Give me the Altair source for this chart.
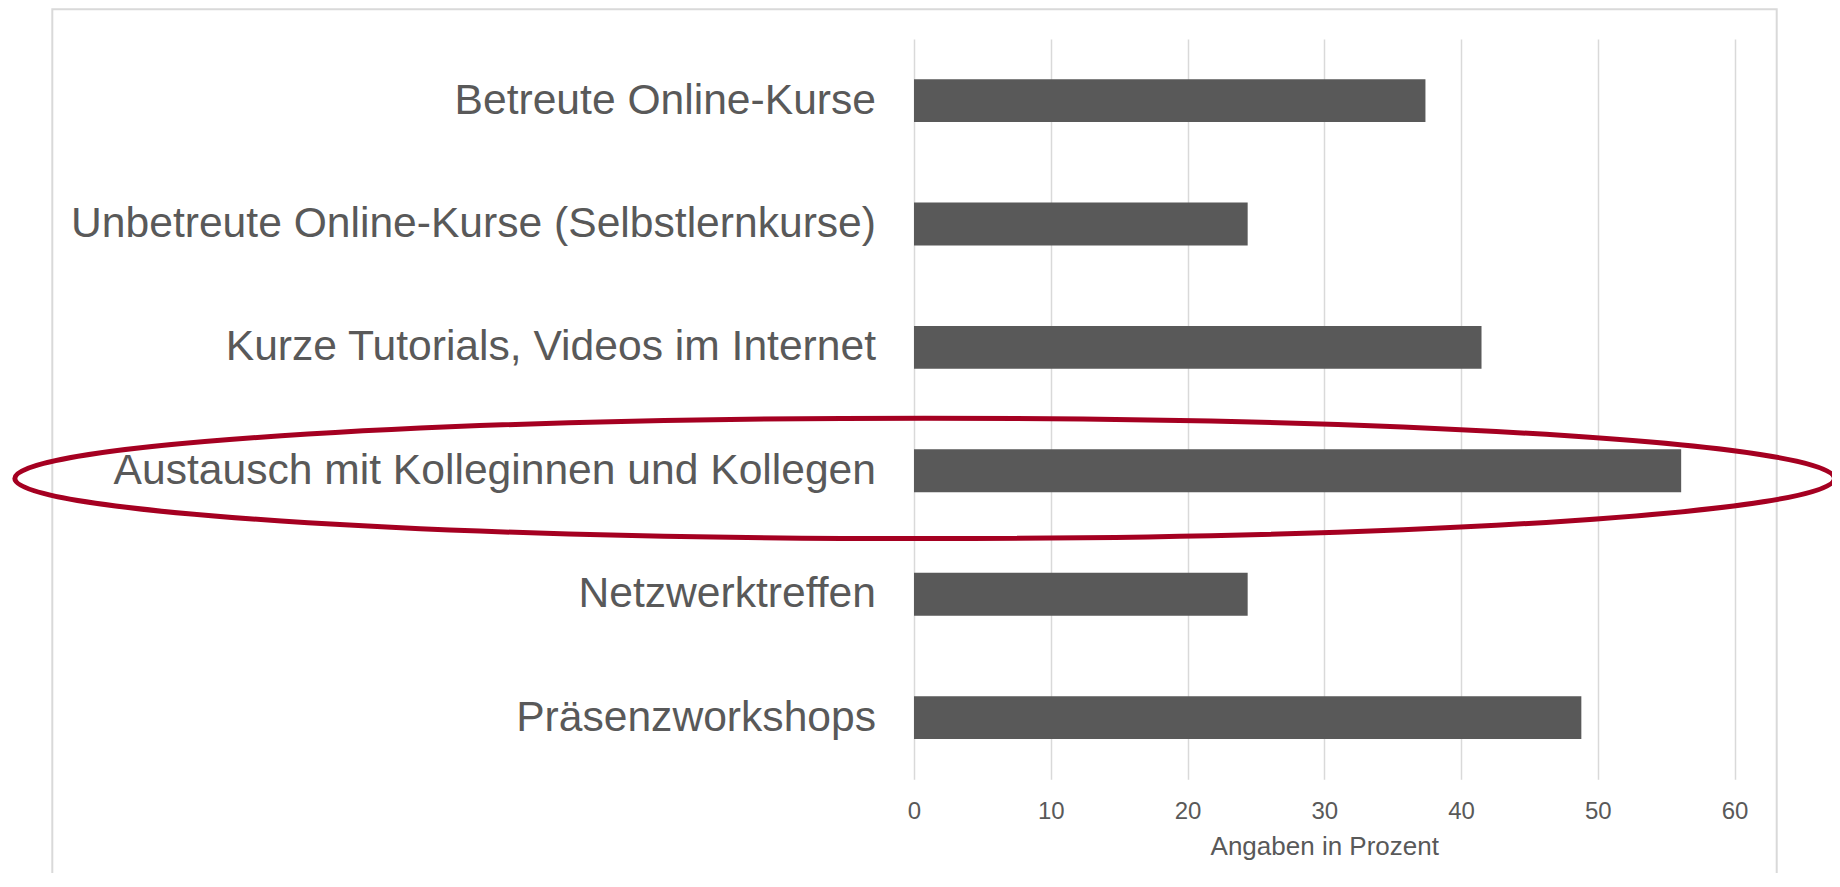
import altair as alt
import pandas as pd

# ---- data ----
categories = [
    "Betreute Online-Kurse",
    "Unbetreute Online-Kurse (Selbstlernkurse)",
    "Kurze Tutorials, Videos im Internet",
    "Austausch mit Kolleginnen und Kollegen",
    "Netzwerktreffen",
    "Präsenzworkshops",
]
values = [37.4, 24.4, 41.5, 56.1, 24.4, 48.8]
x_ticks = [0, 10, 20, 30, 40, 50, 60]
x_title = "Angaben in Prozent"
highlighted = "Austausch mit Kolleginnen und Kollegen"

df = pd.DataFrame({"Kategorie": categories, "Prozent": values})
hl = pd.DataFrame({"Kategorie": [highlighted], "pos": [0.78]})
frame_df = pd.DataFrame({"k": [0]})

FONT = "Liberation Sans"
TEXT = "#595959"
BAR = "#595959"
GRID = "#d9d9d9"
RED = "#A50021"

PAD_L, PAD_T = 906, 30.9
W, H = 820.5, 740.4
PAD_R = 1824 - PAD_L - W
PAD_B = 865 - PAD_T - H

x_scale = alt.Scale(domain=[0, 60], nice=False, zero=True)
y_scale = alt.Scale(domain=categories, paddingInner=0.652, paddingOuter=0.326)

x_axis = alt.Axis(
    values=x_ticks, title=x_title, grid=True, gridColor=GRID, gridWidth=1.5,
    domain=False, ticks=False, tickSize=0, labelFlush=False,
    labelFont=FONT, labelFontSize=24, labelColor=TEXT, labelPadding=20.6,
    titleFont=FONT, titleFontSize=26, titleFontWeight="normal", titleColor=TEXT,
    titlePadding=10,
)
y_axis = alt.Axis(
    title=None, domain=False, ticks=False, tickSize=0, grid=False,
    labelFont=FONT, labelFontSize=42.6, labelColor=TEXT, labelPadding=38.5,
    labelLimit=1000,
)

frame = alt.Chart(frame_df).mark_rect(
    fillOpacity=0, stroke=GRID, strokeWidth=2
).encode(
    x=alt.value(52.3 - 8 - PAD_L),
    x2=alt.value(1776.7 - 8 - PAD_L),
    y=alt.value(9.3 - 8 - PAD_T),
    y2=alt.value(900),
)

bars = alt.Chart(df).mark_bar(color=BAR).encode(
    x=alt.X("Prozent:Q", scale=x_scale, axis=x_axis),
    y=alt.Y("Kategorie:N", scale=y_scale, sort=categories, axis=y_axis),
)

b = 0.06617
kb = 0.5523 * b
k = 0.5523
ELLIPSE = (
    f"M -1 0 C -1 {-kb} {-k} {-b} 0 {-b} "
    f"C {k} {-b} 1 {-kb} 1 0 "
    f"C 1 {kb} {k} {b} 0 {b} "
    f"C {-k} {b} -1 {kb} -1 0 Z"
)

ellipse = alt.Chart(hl).mark_point(
    shape=ELLIPSE, filled=False, stroke=RED, strokeWidth=5, opacity=1,
    size=1819.6 ** 2, yOffset=7.6,
).encode(
    x=alt.X("pos:Q", scale=x_scale),
    y=alt.Y("Kategorie:N", scale=y_scale, sort=categories),
)

chart = alt.layer(frame, bars, ellipse).properties(
    width=W, height=H, autosize="none",
    padding={"left": PAD_L, "top": PAD_T, "right": PAD_R, "bottom": PAD_B},
    background="white",
).configure_view(strokeWidth=0)

chart.save("out.html", embed_options={"renderer": "svg", "actions": False})
